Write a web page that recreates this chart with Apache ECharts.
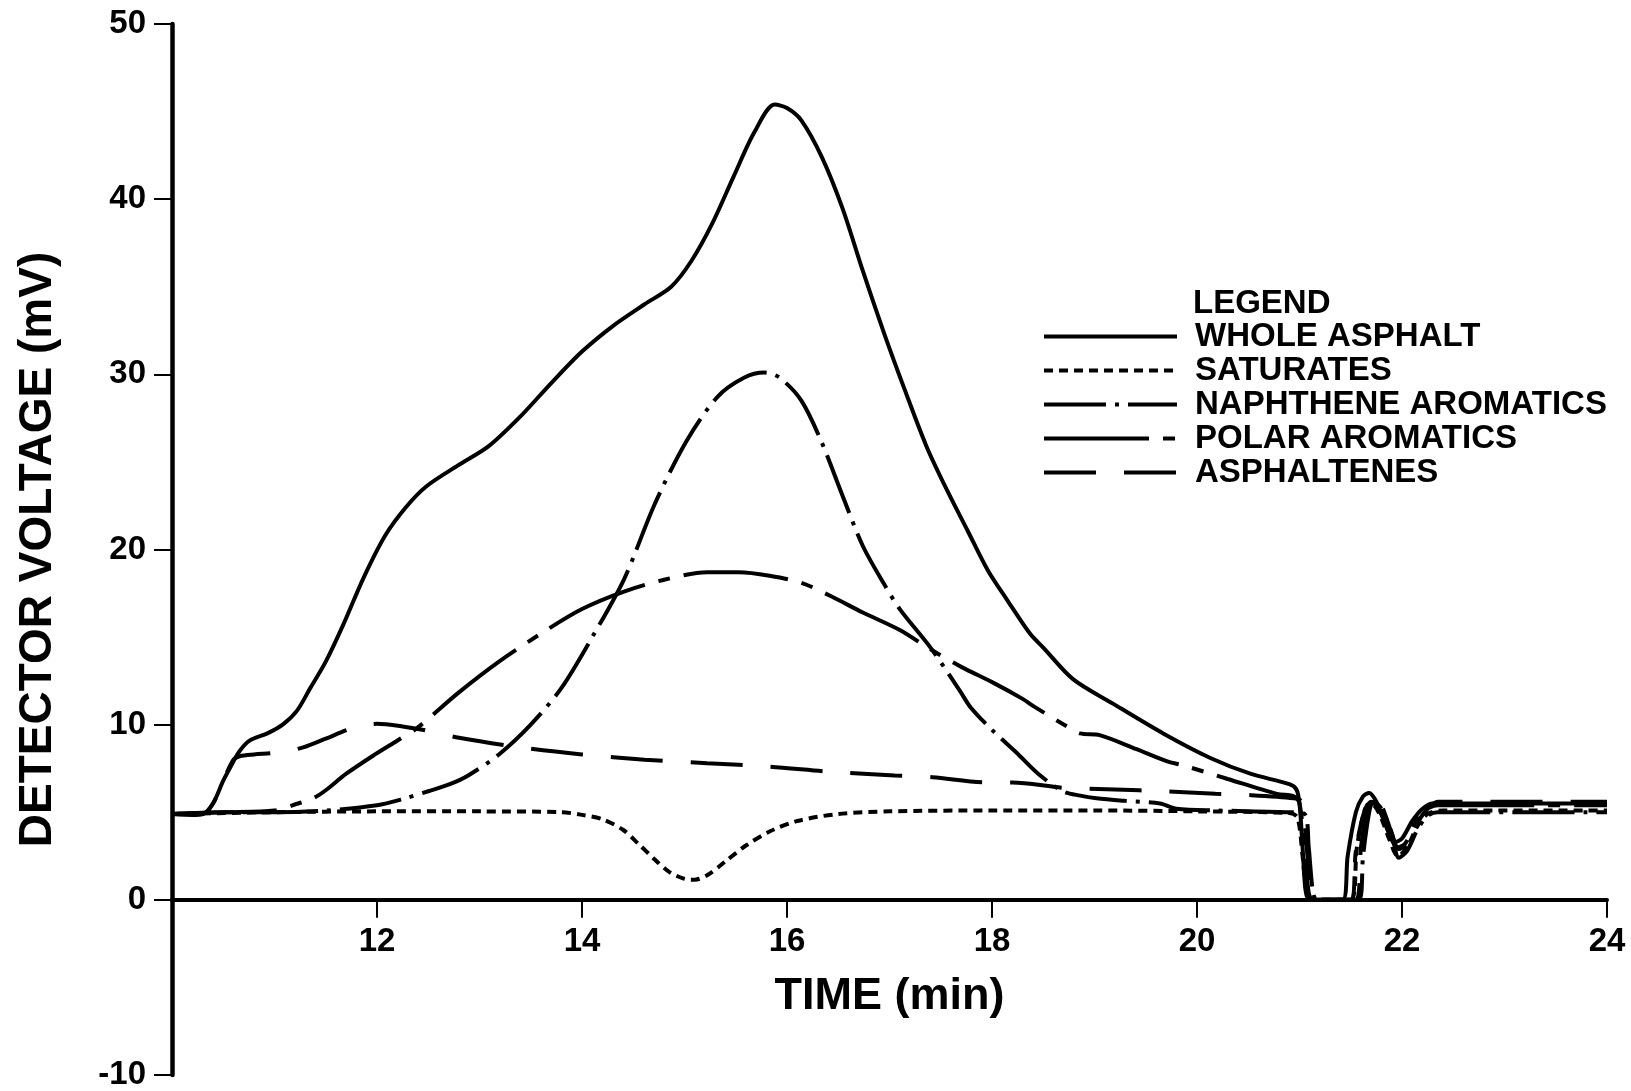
<!DOCTYPE html>
<html>
<head>
<meta charset="utf-8">
<title>Detector voltage vs time</title>
<script src="https://cdn.jsdelivr.net/npm/echarts@6/dist/echarts.min.js"></script>
<style>
  html, body { margin: 0; padding: 0; background: #fff; }
  #chart { width: 1631px; height: 1091px; }
</style>
</head>
<body>
<div id="chart"></div>
<script>
// Chromatogram traces: [time (min), detector voltage (mV)]
const wholeAsphalt = [
  [10.0,4.9],[10.2,4.85],[10.3,4.9],[10.4,5.5],[10.5,6.8],[10.59,7.8],[10.66,8.5],[10.76,9.1],
  [10.93,9.5],[11.08,10.0],[11.22,10.8],[11.35,12.1],[11.5,13.6],[11.67,15.7],[11.87,18.4],
  [12.08,20.8],[12.28,22.4],[12.48,23.6],[12.79,24.8],[13.09,25.9],[13.4,27.6],[13.7,29.5],
  [14.0,31.3],[14.31,32.8],[14.61,34.0],[14.87,35.0],[15.07,36.5],[15.27,38.6],[15.48,41.3],
  [15.68,43.8],[15.88,45.4],[16.0,45.2],[16.14,44.5],[16.34,42.4],[16.54,39.5],[16.74,35.9],
  [16.95,32.3],[17.15,29.1],[17.36,25.9],[17.56,23.4],[17.76,21.1],[17.96,18.8],[18.15,17.1],
  [18.37,15.2],[18.5,14.4],[18.79,12.6],[19.18,11.2],[19.67,9.5],[20.13,8.1],[20.52,7.2],
  [20.9,6.6],[20.97,6.3],[21.0,5.5],[21.03,3.0],[21.06,0.5],[21.1,0],[21.42,0],[21.47,2.5],
  [21.55,5.0],[21.62,5.9],[21.68,6.1],[21.75,5.6],[21.85,4.2],[21.93,3.3],[22.0,3.5],
  [22.1,4.5],[22.2,5.2],[22.3,5.5],[23.0,5.5],[24.0,5.5]
];
const saturates = [
  [10.0,4.9],[11.0,5.0],[12.0,5.05],[13.0,5.05],[13.8,5.0],[14.0,4.85],[14.2,4.6],[14.4,4.0],
  [14.55,3.2],[14.71,2.3],[14.85,1.6],[15.0,1.2],[15.1,1.15],[15.22,1.4],[15.4,2.2],[15.6,3.1],
  [15.83,3.9],[16.1,4.5],[16.5,4.9],[17.0,5.05],[18.0,5.1],[19.0,5.1],[20.0,5.05],[20.9,4.95],
  [20.98,4.7],[21.03,2.5],[21.07,0.4],[21.12,0],[21.5,0],[21.56,3.0],[21.64,5.2],[21.7,5.5],
  [21.78,4.9],[21.88,3.4],[21.96,2.5],[22.05,3.0],[22.15,4.2],[22.25,4.9],[22.4,5.1],[24.0,5.1]
];
const naphtheneAromatics = [
  [10.0,4.9],[10.5,5.0],[11.0,5.0],[11.5,5.1],[12.0,5.4],[12.25,5.75],[12.5,6.2],[12.71,6.6],
  [12.89,7.1],[13.19,8.3],[13.5,10.0],[13.8,12.1],[14.1,15.0],[14.41,18.3],[14.71,22.6],
  [15.02,26.2],[15.32,28.7],[15.58,29.8],[15.78,30.1],[15.93,29.8],[16.14,28.5],[16.34,26.1],
  [16.54,23.1],[16.74,20.2],[16.95,18.0],[17.1,16.6],[17.4,14.4],[17.69,11.9],[17.79,11.0],
  [18.0,9.7],[18.24,8.4],[18.45,7.2],[18.69,6.2],[18.86,5.95],[19.02,5.8],[19.3,5.65],
  [19.64,5.5],[19.8,5.2],[20.2,5.1],[20.9,5.0],[21.05,4.9],[21.09,3.0],[21.13,0.5],[21.17,0],
  [21.58,0],[21.62,2.5],[21.68,5.0],[21.72,5.6],[21.8,5.2],[21.9,3.8],[21.97,2.4],[22.05,2.8],
  [22.15,4.0],[22.25,4.8],[22.35,5.0],[24.0,5.0]
];
const polarAromatics = [
  [10.0,4.9],[10.5,5.0],[11.0,5.1],[11.23,5.5],[11.38,5.8],[11.51,6.3],[11.7,7.2],[11.98,8.3],
  [12.2,9.1],[12.39,9.8],[12.79,11.8],[13.19,13.6],[13.6,15.2],[14.0,16.6],[14.41,17.6],
  [14.82,18.3],[15.22,18.7],[15.53,18.7],[15.83,18.5],[16.14,18.1],[16.44,17.3],[16.74,16.4],
  [17.1,15.4],[17.4,14.3],[17.7,13.3],[18.01,12.4],[18.29,11.5],[18.42,11.0],[18.73,9.9],
  [18.86,9.5],[19.05,9.4],[19.41,8.6],[19.71,7.9],[19.85,7.7],[20.3,6.9],[20.78,6.05],
  [20.95,5.9],[21.0,5.5],[21.05,3.0],[21.09,0.4],[21.13,0],[21.5,0],[21.55,2.8],[21.63,5.0],
  [21.7,5.6],[21.78,5.1],[21.88,3.7],[21.95,3.0],[22.03,3.2],[22.12,4.3],[22.22,5.1],
  [22.35,5.4],[24.0,5.4]
];
const asphaltenes = [
  [10.0,4.9],[10.3,4.9],[10.4,5.5],[10.5,6.8],[10.6,8.0],[10.66,8.2],[10.8,8.3],[11.02,8.4],
  [11.28,8.7],[11.5,9.2],[11.76,9.8],[12.0,10.05],[12.25,9.9],[12.5,9.65],[12.8,9.25],
  [13.4,8.7],[14.0,8.3],[14.61,8.0],[15.22,7.8],[15.83,7.6],[16.44,7.3],[17.05,7.1],[17.42,7.0],
  [17.95,6.7],[18.2,6.7],[18.69,6.4],[19.2,6.3],[19.67,6.2],[20.18,6.05],[20.45,6.0],
  [20.94,5.8],[21.02,5.6],[21.07,3.0],[21.11,0.5],[21.15,0],[21.55,0],[21.6,3.0],[21.67,5.6],
  [21.72,6.0],[21.8,5.4],[21.9,3.8],[21.97,2.9],[22.05,3.2],[22.15,4.4],[22.25,5.2],
  [22.35,5.6],[24.0,5.6]
];

const seriesNames = ['WHOLE ASPHALT', 'SATURATES', 'NAPHTHENE AROMATICS', 'POLAR AROMATICS', 'ASPHALTENES'];
const seriesData = [wholeAsphalt, saturates, naphtheneAromatics, polarAromatics, asphaltenes];
const timeTicks = { min: 10, max: 24, step: 2 };
const voltageTicks = { min: -10, max: 50, step: 10 };

const FONT = '"Liberation Sans", Arial, Helvetica, sans-serif';
const INK = '#000';

// stroke patterns for each trace
const dashes = ['solid', [9, 6], [62, 9, 4, 9], [105, 14, 12, 14], [52, 28]];

// plot box
const W = 1631, H = 1091;
const GRID = { left: 172, right: 24, top: 24, bottom: 16 };
const plotH = H - GRID.top - GRID.bottom;
// the time axis runs along the 0 mV level, lifted up from the bottom edge
const zeroLift = plotH * (0 - voltageTicks.min) / (voltageTicks.max - voltageTicks.min);

const chart = echarts.init(document.getElementById('chart'), null, { renderer: 'canvas' });

chart.setOption({
  backgroundColor: '#fff',
  animation: false,
  title: {
    text: 'LEGEND',
    left: 1193,
    top: 287,
    padding: 0,
    textStyle: { fontFamily: FONT, fontSize: 33, fontWeight: 'bold', color: INK }
  },
  legend: {
    orient: 'vertical',
    left: 1042,
    top: 320,
    padding: 0,
    itemWidth: 133,
    itemHeight: 14,
    itemGap: 1,
    itemStyle: { opacity: 0 },
    lineStyle: { width: 4 },
    selectedMode: false,
    textStyle: { fontFamily: FONT, fontSize: 33, fontWeight: 'bold', color: INK, padding: [0, 0, 0, 13] },
    data: seriesNames
  },
  grid: Object.assign({ containLabel: false, outerBoundsMode: 'none' }, GRID),
  xAxis: {
    type: 'value',
    position: 'bottom',
    offset: -zeroLift,
    min: timeTicks.min,
    max: timeTicks.max,
    interval: timeTicks.step,
    axisLine: { onZero: false, lineStyle: { color: INK, width: 4 } },
    axisTick: { length: 18, lineStyle: { color: INK, width: 2 } },
    axisLabel: {
      margin: 26,
      fontFamily: FONT, fontSize: 33, fontWeight: 'bold', color: INK,
      formatter: v => (v === timeTicks.min ? '' : String(v))
    },
    splitLine: { show: false },
    name: 'TIME (min)',
    nameLocation: 'middle',
    nameGap: 74,
    nameTextStyle: { fontFamily: FONT, fontSize: 45, fontWeight: 'bold', color: INK }
  },
  yAxis: {
    type: 'value',
    min: voltageTicks.min,
    max: voltageTicks.max,
    interval: voltageTicks.step,
    axisLine: { show: true, onZero: false, lineStyle: { color: INK, width: 4.5 } },
    axisTick: { show: true, length: 18, lineStyle: { color: INK, width: 2 } },
    axisLabel: { margin: 26, fontFamily: FONT, fontSize: 33, fontWeight: 'bold', color: INK },
    splitLine: { show: false },
    name: 'DETECTOR VOLTAGE (mV)',
    nameLocation: 'middle',
    nameRotate: 90,
    nameGap: 111,
    nameTextStyle: { fontFamily: FONT, fontSize: 46, fontWeight: 'bold', color: INK }
  },
  series: seriesNames.map((name, i) => ({
    name,
    type: 'line',
    data: seriesData[i],
    symbol: 'none',
    smooth: 0.3,
    lineStyle: { color: INK, width: 4, type: dashes[i], cap: 'butt' },
    itemStyle: { color: INK },
    z: 5 - i
  }))
});
</script>
</body>
</html>
